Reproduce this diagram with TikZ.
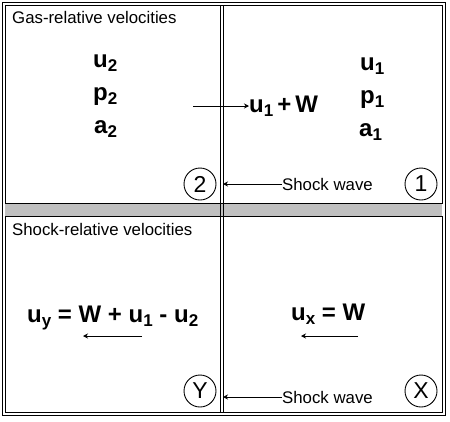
\documentclass[tikz,border=0pt]{standalone}
\usepackage{fontspec}
\setmainfont{Liberation Sans}
\usetikzlibrary{arrows.meta}
\definecolor{bandgray}{RGB}{192,192,192}
\newcommand\sbx[1]{\raisebox{-4.5pt}{\fontsize{17}{17}\selectfont #1}}
\begin{document}
\begin{tikzpicture}[x=1pt,y=-1pt,
  frame/.style={draw=black,line width=0.9pt},
  plain/.style={inner sep=0pt,font=\fontsize{16.8}{18}\selectfont},
  big/.style={inner sep=0pt,font=\fontsize{24}{26}\selectfont\bfseries},
  zone/.style={draw=black,line width=0.9pt,circle,minimum size=32pt,inner sep=0pt,font=\fontsize{23}{24}\selectfont},
  arr/.style={draw=black,line width=0.9pt,-{Stealth[length=5pt,width=5pt]}}]
\useasboundingbox (0,0) rectangle (450,421);
% frames
\draw[frame] (2,2) rectangle (445,415);
\fill[bandgray] (5,203) rectangle (442,216);
\draw[frame] (5,5) rectangle (442,203);
\draw[frame] (5,216) rectangle (442,412);
% shock line (double)
\coordinate (sh1t) at (220,5);
\coordinate (sh1b) at (220,412);
\coordinate (sh2t) at (223,5);
\coordinate (sh2b) at (223,412);
\draw[frame] (sh1t) -- (sh1b);
\draw[frame] (sh2t) -- (sh2b);
% titles
\node[plain,anchor=base west] (gastitle) at (12,23) {Gas-relative velocities};
\node[plain,anchor=base west] (shtitle) at (12,235) {Shock-relative velocities};
% state 2
\node[big,anchor=base west] (u2) at (93,67) {u\sbx{2}};
\node[big,anchor=base west] (p2) at (93,100) {p\sbx{2}};
\node[big,anchor=base west] (a2) at (94,133) {a\sbx{2}};
% state 1
\node[big,anchor=base west] (u1) at (360,70) {u\sbx{1}};
\node[big,anchor=base west] (p1) at (360,103) {p\sbx{1}};
\node[big,anchor=base west] (a1) at (359,136) {a\sbx{1}};
% u1 + W
\node[big,anchor=base west] (uW) at (249,112) {u\sbx{1}\,+\,W};
\coordinate (gasstart) at (193,106);
\draw[arr] (gasstart) -- (gasstart -| uW.west);
% zone circles
\node[zone] (z2) at (200,184) {2};
\node[zone] (z1) at (421,184) {1};
\node[zone] (zY) at (200,391) {Y};
\node[zone] (zX) at (421,391) {X};
% shock wave labels
\node[plain,anchor=west] (sw1) at (282,184) {Shock wave};
\node[plain,anchor=west] (sw2) at (282,397) {Shock wave};
\draw[arr] (sw1.west) -- (sw1.west -| sh2t);
\draw[arr] (sw2.west) -- (sw2.west -| sh2t);
% shock-relative velocities
\node[big,anchor=base west] (uy) at (27,322) {u\sbx{y} = W + u\sbx{1} - u\sbx{2}};
\node[big,anchor=base west] (ux) at (291,320) {u\sbx{x} = W};
\coordinate (ya) at (142,336);
\coordinate (yb) at (83,336);
\coordinate (xa) at (358,336);
\coordinate (xb) at (301,336);
\draw[arr] (ya) -- (yb);
\draw[arr] (xa) -- (xb);
\end{tikzpicture}
\end{document}
